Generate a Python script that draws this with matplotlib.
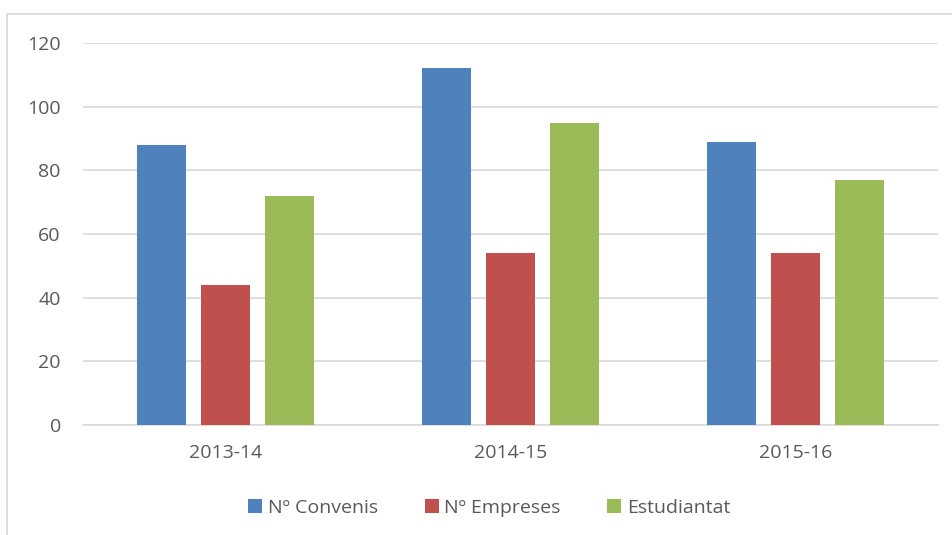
import numpy as np
import matplotlib
matplotlib.use('Agg')
import matplotlib.pyplot as plt
from matplotlib.patches import Rectangle

# Data
categories = ['2013-14', '2014-15', '2015-16']
convenis = [88, 112, 89]
empreses = [44, 54, 54]
estudiantat = [72, 95, 77]
series_names = ['Nº Convenis', 'Nº Empreses', 'Estudiantat']
colors = ['#4F81BD', '#C0504D', '#9BBB59']
y_ticks = [0, 20, 40, 60, 80, 100, 120]

text_color = '#595959'
grid_color = '#D9D9D9'

plt.rcParams['font.family'] = ['Open Sans', 'DejaVu Sans']

fig = plt.figure(figsize=(9.52, 5.35), dpi=100)
W, H = 952, 535

# chart frame
fig.add_artist(Rectangle((7 / W, -0.1), 1.2, 1 - 14 / H + 0.1, transform=fig.transFigure,
                         fill=False, edgecolor=grid_color, linewidth=1.2))

ax = fig.add_axes([83 / W, 1 - 425 / H, (938 - 83) / W, (425 - 43) / H])

x = np.arange(len(categories))
step = 0.223
width = 0.172
for i, (vals, name, c) in enumerate(zip([convenis, empreses, estudiantat], series_names, colors)):
    ax.bar(x + (i - 1) * step, vals, width, color=c, label=name, zorder=3)

ax.set_xlim(-0.5, 2.5)
ax.set_ylim(0, 120)
ax.set_yticks(y_ticks)
ax.set_xticks(x)
ax.set_xticklabels(categories)
ax.grid(axis='y', color=grid_color, linewidth=1.2, zorder=0)
for s in ['top', 'right', 'left']:
    ax.spines[s].set_visible(False)
ax.spines['bottom'].set_color(grid_color)
ax.spines['bottom'].set_linewidth(1.2)
ax.tick_params(axis='both', length=0, labelsize=14, labelcolor=text_color)
ax.tick_params(axis='y', pad=16)
ax.tick_params(axis='x', pad=14)

fig.legend(loc='center', bbox_to_anchor=(0.514, 1 - 508 / H), ncol=3, frameon=False,
           fontsize=14, labelcolor=text_color, handlelength=0.72, handleheight=0.72,
           handletextpad=0.3, columnspacing=2.4)

fig.savefig('out.png', dpi=100, facecolor='white')
